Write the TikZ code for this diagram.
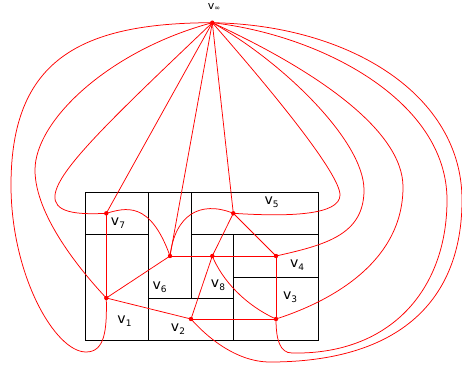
\documentclass[tikz,border=0pt]{standalone}
\usepackage{fontspec}
\setmainfont{DejaVu Sans}
\usetikzlibrary{positioning}
\tikzset{
  frame/.style={black, line width=0.9pt},
  edge/.style={red, line width=0.75pt},
  lbl/.style={font=\fontsize{14}{14}\selectfont, inner sep=0pt},
}
\newcommand{\vsub}[1]{v\raisebox{-3pt}{\fontsize{9}{9}\selectfont #1}}

\begin{document}
\begin{tikzpicture}[x=1pt,y=-1pt]
    \useasboundingbox (0,0) rectangle (462,366);

    % 1. Rectangular layout
    \draw[frame] (85,192.3) rectangle (318.5,340.5);
    \draw[frame] (148.7,192.3) -- (148.7,340.5);
    \draw[frame] (191,192.3) -- (191,298);
    \draw[frame] (233.3,234.3) -- (233.3,340.5);
    \draw[frame] (85,234.3) -- (148.7,234.3);
    \draw[frame] (191,234.3) -- (318.5,234.3);
    \draw[frame] (233.3,277) -- (318.5,277);
    \draw[frame] (148.7,298) -- (233.3,298);

    % 2. Vertices of the dual graph
    \coordinate (vinf) at (212.3,22.7);
    \coordinate (v1) at (106.3,298);
    \coordinate (v2) at (191,319);
    \coordinate (v3) at (276,319);
    \coordinate (v4) at (276,256);
    \coordinate (v5) at (233.3,213.3);
    \coordinate (v6) at (170,256);
    \coordinate (v7) at (106.3,213.3);
    \coordinate (v8) at (212.3,256);

    % 3. Straight edges
    \foreach \a/\b in {v7/v1, v1/v6, v1/v2, v2/v8, v2/v3, v6/v8, v8/v4,
                       v4/v3, v8/v5, v5/v4, vinf/v7, vinf/v6, vinf/v5} {
        \draw[edge] (\a) -- (\b);
    }

    % 4. Curved edges inside
    \draw[edge] (v8) .. controls (222,280) and (245,305) .. (v3);
    \draw[edge] (v7) .. controls (125,208) and (150,200) .. (v6);
    \draw[edge] (v6) .. controls (175,215) and (200,200) .. (v5);

    % 5. Edges round the outside to v-infinity
    \draw[edge] (v1) .. controls (107,330) and (105,352) .. (86,352)
                     .. controls (55,352) and (11,275) .. (11,185)
                     .. controls (11,60) and (80,23) .. (vinf);
    \draw[edge] (v1) .. controls (80,270) and (35,215) .. (35,170)
                     .. controls (35,120) and (110,50) .. (vinf);
    \draw[edge] (v7) .. controls (75,215) and (53,212) .. (55,195)
                     .. controls (58,170) and (110,120) .. (vinf);
    \draw[edge] (v5) .. controls (290,217) and (340,215) .. (340,195)
                     .. controls (340,175) and (280,100) .. (vinf);
    \draw[edge] (v4) .. controls (325,245) and (364,235) .. (364,190)
                     .. controls (364,140) and (280,60) .. (vinf);
    \draw[edge] (v3) .. controls (335,300) and (403,260) .. (403,187)
                     .. controls (403,130) and (315,70) .. (vinf);
    \draw[edge] (v3) .. controls (276,340) and (280,353) .. (292,353)
                     .. controls (390,355) and (447,290) .. (447,200)
                     .. controls (447,100) and (320,35) .. (vinf);
    \draw[edge] (v2) .. controls (205,335) and (235,362) .. (270,362)
                     .. controls (400,362) and (462,300) .. (462,200)
                     .. controls (462,95) and (350,25) .. (vinf);

    % 6. Dots
    \foreach \v in {vinf,v1,v2,v3,v4,v5,v6,v7,v8} {
        \fill[red] (\v) circle (2.2);
    }

    % 7. Labels
    \node[font=\fontsize{11}{11}\selectfont, inner sep=0pt] (linf) at (214,7) {v\raisebox{-0.5pt}{\fontsize{7}{7}\selectfont ∞}};
    \node[lbl] (l1) at (124.5,321) {\vsub{1}};
    \node[lbl] (l2) at (178,329) {\vsub{2}};
    \node[lbl] (l3) at (290,297) {\vsub{3}};
    \node[lbl] (l4) at (297,264.7) {\vsub{4}};
    \node[lbl] (l5) at (271.5,202) {\vsub{5}};
    \node[lbl] (l6) at (159.7,287) {\vsub{6}};
    \node[lbl] (l7) at (118,223) {\vsub{7}};
    \node[lbl] (l8) at (218,285.5) {\vsub{8}};
\end{tikzpicture}
\end{document}
